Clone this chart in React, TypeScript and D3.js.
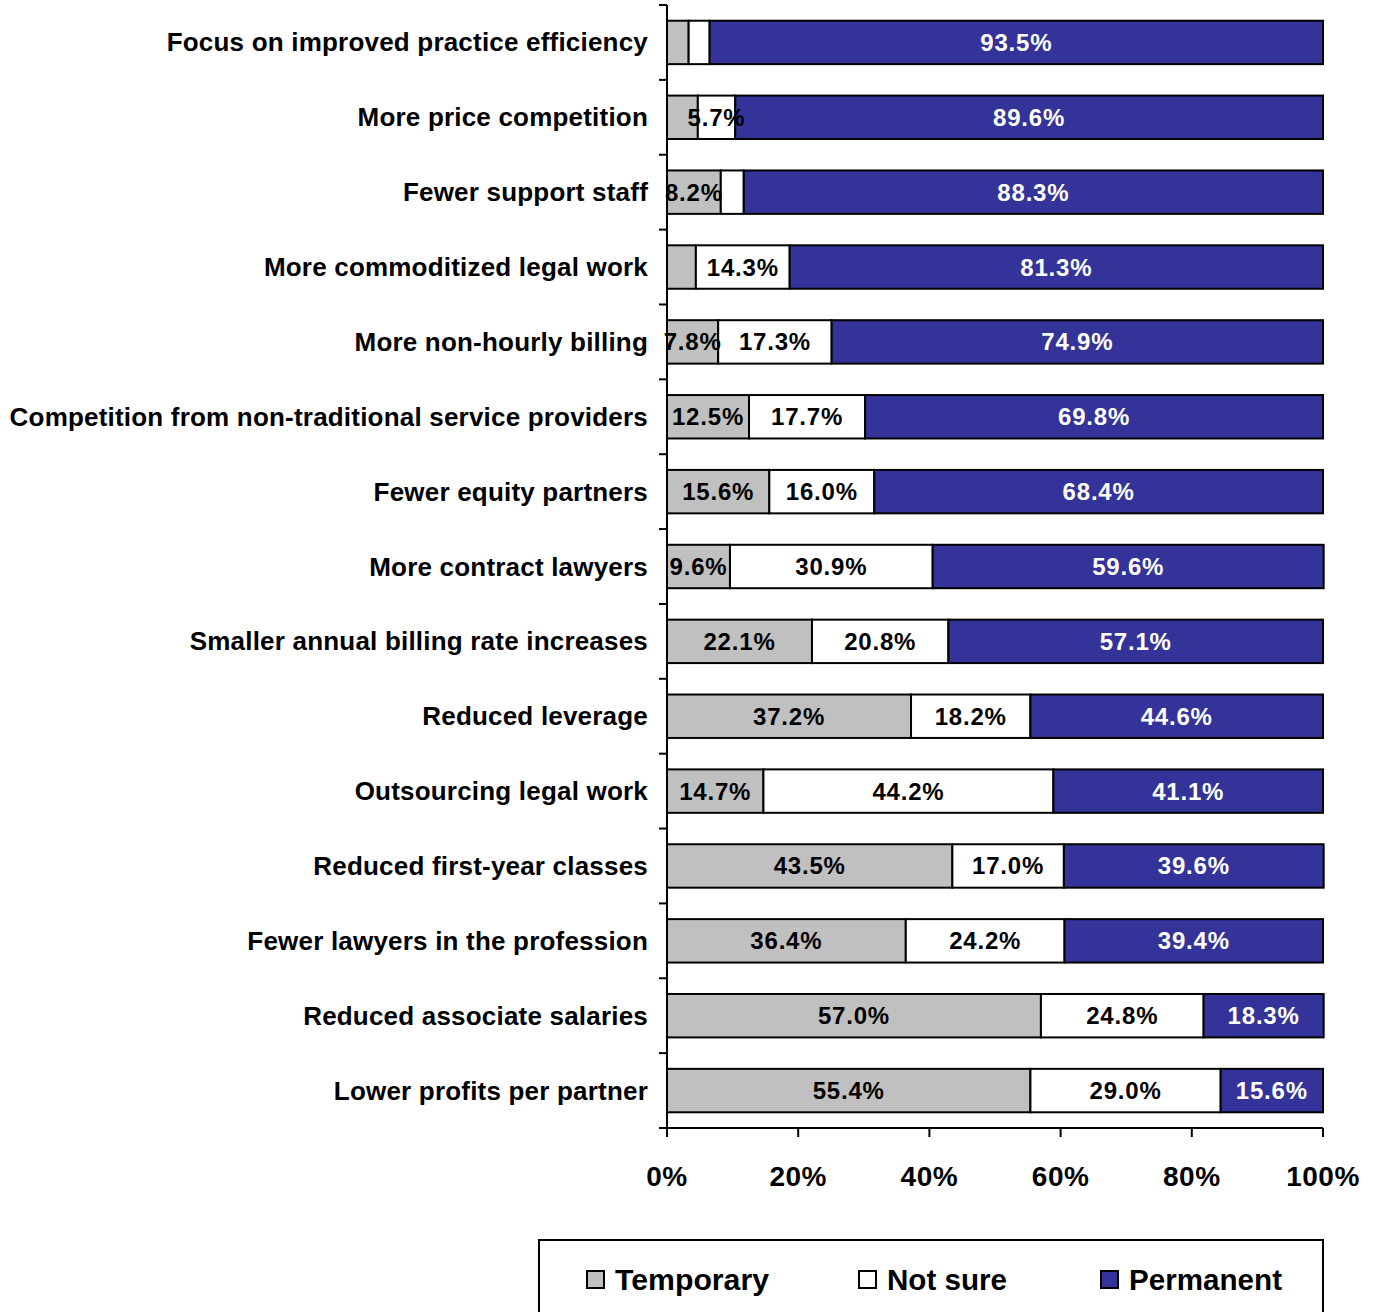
import React from "react";
import * as d3 from "d3";

const categories = [
  "Focus on improved practice efficiency",
  "More price competition",
  "Fewer support staff",
  "More commoditized legal work",
  "More non-hourly billing",
  "Competition from non-traditional service providers",
  "Fewer equity partners",
  "More contract lawyers",
  "Smaller annual billing rate increases",
  "Reduced leverage",
  "Outsourcing legal work",
  "Reduced first-year classes",
  "Fewer lawyers in the profession",
  "Reduced associate salaries",
  "Lower profits per partner",
];
const temporary = [3.3, 4.7, 8.2, 4.4, 7.8, 12.5, 15.6, 9.6, 22.1, 37.2, 14.7, 43.5, 36.4, 57.0, 55.4];
const notSure = [3.2, 5.7, 3.5, 14.3, 17.3, 17.7, 16.0, 30.9, 20.8, 18.2, 44.2, 17.0, 24.2, 24.8, 29.0];
const permanent = [93.5, 89.6, 88.3, 81.3, 74.9, 69.8, 68.4, 59.6, 57.1, 44.6, 41.1, 39.6, 39.4, 18.3, 15.6];
const seriesNames = ["Temporary", "Not sure", "Permanent"];
const seriesColors = ["#C0C0C0", "#FFFFFF", "#333399"];
const labelColors = ["#000000", "#000000", "#FFFFFF"];
const xTicks = [0, 20, 40, 60, 80, 100];

export default function App() {
  const W = 1377, H = 1312;
  const x0 = 667, x1 = 1323, yTop = 5, yBot = 1128;
  const x = d3.scaleLinear().domain([0, 100]).range([x0, x1]);
  const y = d3.scaleBand().domain(categories).range([yTop, yBot]).paddingInner(0.42).paddingOuter(0.21);
  const rows = categories.map((c, i) => ({ c, vals: [temporary[i], notSure[i], permanent[i]] }));
  const font = "'Liberation Sans', Arial, sans-serif";
  const step = (yBot - yTop) / categories.length;
  const legendItems = [
    { sx: 587, tx: 615, tw: 154 },
    { sx: 859, tx: 887, tw: 120 },
    { sx: 1101, tx: 1129, tw: 153 },
  ];
  return (
    <svg width={W} height={H} style={{ position: "absolute", left: 0, top: 0, background: "#fff" }} fontFamily={font}>
      {rows.map((r, i) => {
        let acc = 0;
        const yy = y(r.c)!;
        const bh = y.bandwidth();
        return (
          <g key={r.c}>
            {r.vals.map((v, s) => {
              const a = acc;
              acc += v;
              return (
                <rect key={s} x={x(a)} y={yy} width={x(a + v) - x(a)} height={bh}
                  fill={seriesColors[s]} stroke="#000" strokeWidth={2} />
              );
            })}
            {(() => {
              let acc2 = 0;
              return r.vals.map((v, s) => {
                const a = acc2;
                acc2 += v;
                if (v < 5) return null;
                return (
                  <text key={"t" + s} x={x(a + v / 2)} y={yy + bh / 2 + 8.5} textAnchor="middle"
                    fontSize={24} fontWeight="bold" fill={labelColors[s]} letterSpacing={0.8}>
                    {v.toFixed(1)}%
                  </text>
                );
              });
            })()}
            <text x={648} y={yy + bh / 2 + 9} textAnchor="end" fontSize={26} fontWeight="bold" letterSpacing={0.2}>
              {r.c}
            </text>
          </g>
        );
      })}
      <line x1={x0} x2={x0} y1={yTop} y2={yBot} stroke="#000" strokeWidth={2} />
      {d3.range(categories.length + 1).map((k) => (
        <line key={k} x1={x0 - 8} x2={x0} y1={yTop + k * step} y2={yTop + k * step} stroke="#000" strokeWidth={2} />
      ))}
      <line x1={x0 - 8} x2={x1} y1={yBot} y2={yBot} stroke="#000" strokeWidth={2} />
      {xTicks.map((t) => (
        <g key={t}>
          <line x1={x(t)} x2={x(t)} y1={yBot} y2={yBot + 9} stroke="#000" strokeWidth={2} />
          <text x={x(t)} y={1186} textAnchor="middle" fontSize={28} fontWeight="bold" letterSpacing={0.5}>{t}%</text>
        </g>
      ))}
      <rect x={539} y={1240} width={784} height={100} fill="none" stroke="#000" strokeWidth={2} />
      {legendItems.map((l, s) => (
        <g key={s}>
          <rect x={l.sx} y={1271} width={17} height={17} fill={seriesColors[s]} stroke="#000" strokeWidth={2} />
          <text x={l.tx} y={1290} fontSize={29} fontWeight="bold" textLength={l.tw} lengthAdjust="spacingAndGlyphs">
            {seriesNames[s]}
          </text>
        </g>
      ))}
    </svg>
  );
}
